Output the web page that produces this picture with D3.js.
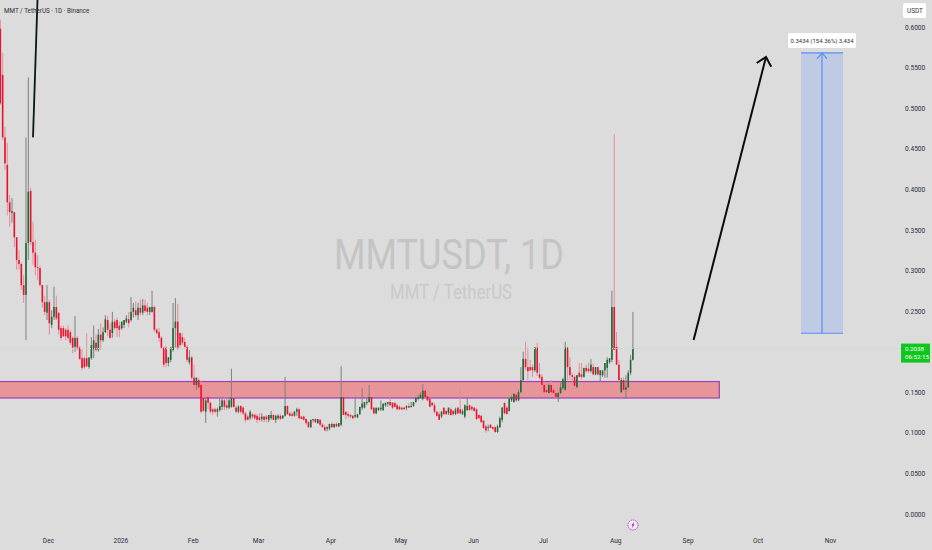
<!DOCTYPE html>
<html lang="en">
	<head>
		<meta charset="utf-8">
		<title>MMTUSDT 1D</title>
		<script type="text/javascript" src="https://cdn.jsdelivr.net/npm/d3@7"></script>
		<style type="text/css">
			html, body { margin: 0; padding: 0; background: #dcdcdc; }
			svg { display: block; font-family: "Roboto", "Liberation Sans", sans-serif; }
			.axis text { fill: #2a2e39; font-size: 6.6px; font-family: "Roboto", "Liberation Sans", sans-serif; }
			.axis path, .axis line { display: none; }
		</style>
	</head>

	<body>
		<script type="text/javascript">

			var w = 932;
			var h = 550;

			// daily candles, first one is 11 Nov 2025
			var firstDay = "2025-11-11";

			var opens = [
				.598,.541,.464,.430,.384,.371,.372,.341,.313,.308,
				.282,.270,.334,.398,.335,.322,.304,.303,.282,.261,
				.248,.261,.233,.243,.255,.248,.229,.229,.227,.227,
				.224,.217,.206,.217,.205,.192,.192,.192,.181,.192,
				.203,.211,.202,.221,.214,.224,.239,.227,.223,.237,
				.239,.232,.229,.233,.237,.240,.239,.249,.251,.245,
				.254,.248,.257,.254,.249,.249,.255,.227,.224,.217,
				.205,.205,.186,.190,.202,.229,.237,.223,.218,.212,
				.206,.187,.193,.168,.159,.165,.159,.143,.126,.144,
				.137,.129,.129,.126,.128,.132,.140,.134,.131,.132,
				.143,.131,.126,.133,.131,.124,.120,.118,.123,.122,
				.121,.119,.117,.120,.120,.116,.118,.122,.116,.118,
				.121,.118,.121,.133,.124,.123,.121,.126,.129,.120,
				.120,.117,.113,.107,.116,.117,.112,.116,.110,.107,
				.105,.105,.111,.107,.111,.108,.110,.144,.126,.123,
				.122,.121,.120,.119,.123,.131,.131,.137,.138,.144,
				.131,.124,.128,.129,.128,.134,.136,.138,.137,.137,
				.134,.132,.131,.131,.131,.133,.132,.133,.138,.142,
				.143,.142,.152,.145,.142,.137,.134,.126,.123,.120,
				.131,.127,.124,.129,.127,.123,.131,.129,.123,.120,
				.128,.134,.132,.131,.129,.122,.121,.115,.108,.106,
				.110,.107,.107,.101,.107,.116,.137,.131,.127,.140,
				.138,.147,.140,.150,.165,.191,.181,.181,.181,.177,
				.205,.172,.169,.159,.153,.149,.159,.153,.149,.144,
				.149,.155,.153,.205,.181,.171,.169,.156,.174,.172,
				.169,.180,.179,.176,.181,.172,.181,.171,.171,.177,
				.180,.187,.190,.255,.206,.184,.150,.165,.153,.156,.174,.190
			];
			var highs = [
				.609,.568,.477,.457,.393,.389,.372,.341,.325,.310,
				.294,.464,.538,.402,.360,.338,.319,.306,.282,.269,
				.282,.264,.251,.280,.269,.248,.232,.232,.229,.232,
				.227,.219,.244,.219,.207,.203,.194,.223,.192,.218,
				.232,.221,.228,.235,.230,.245,.244,.235,.249,.240,
				.242,.237,.237,.239,.245,.249,.267,.260,.262,.260,
				.264,.265,.264,.260,.255,.275,.257,.229,.229,.219,
				.205,.207,.193,.206,.260,.266,.259,.223,.223,.217,
				.208,.202,.195,.184,.168,.168,.164,.145,.143,.147,
				.139,.131,.131,.131,.142,.142,.143,.142,.143,.179,
				.144,.134,.134,.134,.133,.126,.122,.128,.124,.124,
				.123,.124,.124,.121,.122,.122,.127,.123,.122,.123,
				.123,.122,.169,.134,.126,.126,.127,.131,.131,.121,
				.121,.118,.115,.116,.117,.118,.117,.117,.112,.110,
				.108,.111,.113,.111,.113,.112,.182,.150,.126,.126,
				.123,.122,.144,.123,.132,.155,.138,.143,.159,.144,
				.132,.131,.131,.140,.136,.137,.138,.148,.138,.137,
				.136,.134,.132,.132,.134,.137,.138,.138,.144,.147,
				.150,.160,.153,.147,.143,.138,.137,.127,.126,.127,
				.131,.128,.131,.131,.128,.131,.132,.156,.129,.135,
				.144,.135,.134,.132,.131,.123,.122,.116,.110,.110,
				.111,.108,.108,.110,.120,.132,.137,.133,.143,.146,
				.149,.149,.153,.181,.200,.212,.205,.190,.184,.206,
				.211,.186,.172,.161,.161,.161,.165,.155,.150,.150,
				.163,.168,.212,.206,.193,.174,.171,.171,.186,.186,
				.180,.184,.186,.191,.185,.181,.181,.177,.177,.186,
				.193,.192,.275,.468,.224,.190,.168,.168,.171,.177,.196,.249
			];
			var lows = [
				.504,.461,.424,.368,.354,.359,.329,.301,.301,.276,
				.260,.214,.313,.331,.307,.294,.288,.280,.254,.245,
				.239,.221,.229,.239,.239,.221,.214,.218,.214,.214,
				.208,.198,.200,.202,.190,.177,.179,.181,.179,.190,
				.192,.200,.200,.202,.212,.223,.219,.216,.217,.227,
				.218,.218,.227,.229,.235,.230,.237,.242,.243,.239,
				.245,.245,.248,.245,.245,.248,.224,.221,.212,.203,
				.181,.181,.182,.187,.200,.205,.202,.205,.208,.205,
				.187,.184,.165,.150,.153,.150,.124,.126,.112,.129,
				.124,.122,.124,.120,.126,.128,.128,.128,.129,.131,
				.131,.124,.124,.124,.122,.113,.116,.116,.117,.116,
				.112,.114,.114,.113,.113,.113,.116,.116,.112,.116,
				.116,.117,.120,.122,.120,.120,.120,.121,.117,.117,
				.115,.110,.106,.106,.113,.112,.111,.108,.106,.102,
				.102,.103,.106,.106,.107,.107,.108,.122,.117,.118,
				.118,.117,.118,.118,.122,.128,.130,.134,.137,.128,
				.123,.123,.127,.127,.127,.132,.132,.133,.129,.131,
				.128,.128,.128,.129,.128,.131,.131,.132,.137,.140,
				.142,.140,.142,.139,.132,.133,.124,.120,.116,.118,
				.122,.122,.122,.121,.121,.122,.123,.123,.122,.118,
				.127,.127,.127,.126,.116,.117,.113,.105,.100,.102,
				.106,.103,.100,.100,.106,.113,.123,.123,.126,.138,
				.137,.138,.139,.149,.164,.177,.165,.176,.169,.175,
				.170,.166,.153,.149,.149,.149,.149,.144,.142,.138,
				.148,.153,.152,.165,.165,.163,.156,.156,.168,.166,
				.168,.174,.174,.174,.171,.171,.171,.163,.169,.168,
				.168,.185,.187,.202,.184,.163,.149,.150,.142,.155,.171,.189
			];
			var closes = [
				.506,.464,.432,.384,.372,.373,.341,.313,.308,.282,
				.270,.334,.397,.335,.322,.304,.303,.282,.261,.249,
				.261,.235,.243,.255,.241,.227,.217,.219,.219,.217,
				.211,.205,.217,.205,.191,.180,.181,.182,.193,.208,
				.214,.202,.221,.214,.224,.240,.227,.217,.237,.229,
				.229,.227,.237,.239,.241,.235,.249,.254,.245,.254,
				.248,.257,.250,.249,.255,.255,.227,.223,.217,.205,
				.184,.186,.193,.205,.229,.237,.205,.208,.211,.206,
				.190,.193,.168,.159,.168,.156,.126,.127,.140,.137,
				.126,.126,.126,.129,.133,.140,.132,.131,.140,.143,
				.132,.126,.132,.126,.124,.116,.116,.126,.120,.118,
				.116,.116,.120,.116,.117,.122,.122,.116,.121,.121,
				.117,.121,.133,.123,.121,.121,.126,.129,.118,.117,
				.116,.112,.107,.116,.117,.113,.117,.110,.107,.103,
				.107,.111,.107,.111,.108,.112,.144,.122,.122,.121,
				.120,.118,.122,.123,.132,.136,.138,.138,.144,.129,
				.124,.131,.131,.131,.136,.137,.138,.134,.131,.132,
				.129,.129,.129,.129,.133,.131,.133,.138,.143,.144,
				.147,.152,.144,.140,.132,.134,.126,.121,.116,.126,
				.123,.123,.131,.122,.123,.129,.124,.124,.127,.134,
				.133,.128,.129,.127,.117,.118,.113,.106,.103,.107,
				.106,.105,.101,.108,.118,.131,.124,.123,.142,.144,
				.148,.140,.150,.165,.191,.181,.176,.177,.177,.205,
				.174,.168,.159,.150,.150,.159,.150,.149,.144,.149,
				.156,.166,.205,.181,.171,.169,.158,.171,.169,.169,
				.180,.176,.176,.184,.172,.181,.172,.177,.177,.186,
				.190,.192,.255,.202,.184,.165,.165,.153,.156,.174,.190,.2038
			];

			var lastPrice = 0.2038;
			var lastLabel = ["0.2038", "06:52:15"];

			// 0.2000 sits behind the last price tag in the original so it is left out
			var priceTicks = [0, .05, .1, .15, .25, .3, .35, .4, .45, .5, .55, .6];
			var timeTicks = ["2025-12-01", "2026-01-01", "2026-02-01", "2026-03-01", "2026-04-01", "2026-05-01",
				"2026-06-01", "2026-07-01", "2026-08-01", "2026-09-01", "2026-10-01", "2026-11-01"];
			var timeLabels = ["Dec", "2026", "Feb", "Mar", "Apr", "May", "Jun", "Jul", "Aug", "Sep", "Oct", "Nov"];

			// drawings on the chart: zone, measured range, two trend lines
			var zonePrices = [.1632, .1429];
			var zoneEnd = "2026-09-15";
			var rangePrices = [.2227, .5680];
			var rangeDays = ["2026-10-20", "2026-11-07"];
			var rangeLabel = "0.3434 (154.36%) 3,434";
			var bigArrowDays = ["2026-09-04", "2026-10-05"];
			var bigArrowPrices = [.2144, .5630];
			var topLineDays = ["2025-11-25", "2025-11-27"];
			var topLinePrices = [.4640, .6400];

			var parseDay = d3.utcParse("%Y-%m-%d");

			var xScale = d3.scaleUtc()
				.domain([parseDay("2025-12-01"), parseDay("2026-11-01")])
				.range([47, 829]);

			var yScale = d3.scaleLinear()
				.domain([0, .6])
				.range([514, 27]);

			var svg = d3.select("body")
				.append("svg")
				.attr("width", w)
				.attr("height", h);

			svg.append("rect")
				.attr("width", w)
				.attr("height", h)
				.attr("fill", "#dcdcdc");

			// clip so nothing runs under the price scale
			svg.append("clipPath")
				.attr("id", "pane")
				.append("rect")
				.attr("width", 900)
				.attr("height", 530);

			var pane = svg.append("g").attr("clip-path", "url(#pane)");

			// watermark
			pane.append("text")
				.attr("x", 449)
				.attr("y", 269)
				.attr("text-anchor", "middle")
				.attr("font-size", 43)
				.attr("textLength", 230)
				.attr("lengthAdjust", "spacingAndGlyphs")
				.attr("fill", "#c4c4c4")
				.text("MMTUSDT, 1D");

			pane.append("text")
				.attr("x", 451)
				.attr("y", 299)
				.attr("text-anchor", "middle")
				.attr("font-size", 21)
				.attr("textLength", 122)
				.attr("lengthAdjust", "spacingAndGlyphs")
				.attr("fill", "#c9c9c9")
				.text("MMT / TetherUS");

			// last price line
			svg.append("line")
				.attr("x1", 0)
				.attr("x2", 901)
				.attr("y1", yScale(lastPrice))
				.attr("y2", yScale(lastPrice))
				.attr("stroke", "#bcdcbc")
				.attr("stroke-dasharray", "1,1");

			// zone
			pane.append("rect")
				.attr("x", -2)
				.attr("y", yScale(zonePrices[0]))
				.attr("width", xScale(parseDay(zoneEnd)) + 2)
				.attr("height", yScale(zonePrices[1]) - yScale(zonePrices[0]))
				.attr("fill", "#e89599")
				.attr("stroke", "#9d3fb4")
				.attr("stroke-width", 1.2);

			// candles
			var first = parseDay(firstDay);
			var candles = closes.map(function(c, i) {
				return {
					day: d3.utcDay.offset(first, i),
					open: opens[i],
					high: highs[i],
					low: lows[i],
					close: c
				};
			});

			var candle = pane.selectAll("g.candle")
				.data(candles)
				.enter()
				.append("g")
				.attr("class", "candle");

			candle.append("line")
				.attr("x1", function(d) { return xScale(d.day); })
				.attr("x2", function(d) { return xScale(d.day); })
				.attr("y1", function(d) { return yScale(d.high); })
				.attr("y2", function(d) { return yScale(d.low); })
				.attr("stroke", function(d) { return d.close >= d.open ? "#7f7f7f" : "#e88a98"; })
				.attr("stroke-width", 1);

			candle.append("rect")
				.attr("x", function(d) { return xScale(d.day) - 0.8; })
				.attr("width", 1.6)
				.attr("y", function(d) { return yScale(Math.max(d.open, d.close)); })
				.attr("height", function(d) { return Math.max(1, Math.abs(yScale(d.open) - yScale(d.close))); })
				.attr("fill", function(d) { return d.close >= d.open ? "#1f6a35" : "#ea1230"; });

			// measured range
			var rx0 = xScale(parseDay(rangeDays[0]));
			var rx1 = xScale(parseDay(rangeDays[1]));
			var rxm = (rx0 + rx1) / 2;
			var ry0 = yScale(rangePrices[0]);
			var ry1 = yScale(rangePrices[1]);

			pane.append("rect")
				.attr("x", rx0)
				.attr("y", ry1)
				.attr("width", rx1 - rx0)
				.attr("height", ry0 - ry1)
				.attr("fill", "#bfcbe4");

			[ry0, ry1].forEach(function(y) {
				pane.append("line")
					.attr("x1", rx0).attr("x2", rx1)
					.attr("y1", y).attr("y2", y)
					.attr("stroke", "#5a8cf0")
					.attr("stroke-width", 1.2);
			});

			pane.append("line")
				.attr("x1", rxm).attr("x2", rxm)
				.attr("y1", ry0).attr("y2", ry1)
				.attr("stroke", "#5a8cf0")
				.attr("stroke-width", 1.2);

			pane.append("path")
				.attr("d", "M" + (rxm - 5) + "," + (ry1 + 6) + "L" + rxm + "," + ry1 + "L" + (rxm + 5) + "," + (ry1 + 6))
				.attr("fill", "none")
				.attr("stroke", "#5a8cf0")
				.attr("stroke-width", 1.2);

			pane.append("rect")
				.attr("x", rxm - 34)
				.attr("y", ry1 - 20)
				.attr("width", 68)
				.attr("height", 15)
				.attr("rx", 1.5)
				.attr("fill", "#ffffff");

			pane.append("text")
				.attr("x", rxm)
				.attr("y", ry1 - 10)
				.attr("text-anchor", "middle")
				.attr("font-size", 6)
				.attr("fill", "#333")
				.text(rangeLabel);

			// black trend lines
			var ax0 = xScale(parseDay(bigArrowDays[0])), ax1 = xScale(parseDay(bigArrowDays[1]));
			var ay0 = yScale(bigArrowPrices[0]), ay1 = yScale(bigArrowPrices[1]);
			var ang = Math.atan2(ay1 - ay0, ax1 - ax0);

			pane.append("line")
				.attr("x1", ax0).attr("y1", ay0)
				.attr("x2", ax1).attr("y2", ay1)
				.attr("stroke", "#0b0b0b")
				.attr("stroke-width", 2);

			pane.append("path")
				.attr("d", "M" + (ax1 - 11 * Math.cos(ang - .75)) + "," + (ay1 - 11 * Math.sin(ang - .75)) +
					"L" + ax1 + "," + ay1 +
					"L" + (ax1 - 11 * Math.cos(ang + .75)) + "," + (ay1 - 11 * Math.sin(ang + .75)))
				.attr("fill", "none")
				.attr("stroke", "#0b0b0b")
				.attr("stroke-width", 2);

			pane.append("line")
				.attr("x1", xScale(parseDay(topLineDays[0])))
				.attr("y1", yScale(topLinePrices[0]))
				.attr("x2", xScale(parseDay(topLineDays[1])))
				.attr("y2", yScale(topLinePrices[1]))
				.attr("stroke", "#0b1a10")
				.attr("stroke-width", 1.8);

			// title
			svg.append("text")
				.attr("x", 4)
				.attr("y", 12.5)
				.attr("font-size", 6.3)
				.attr("fill", "#2a2e39")
				.text("MMT / TetherUS · 1D · Binance");

			// price scale
			var yAxis = d3.axisRight(yScale)
				.tickValues(priceTicks)
				.tickSize(0)
				.tickPadding(0)
				.tickFormat(d3.format(".4f"));

			svg.append("g")
				.attr("class", "axis")
				.attr("transform", "translate(905,0)")
				.call(yAxis);

			svg.append("rect")
				.attr("x", 903)
				.attr("y", 3)
				.attr("width", 23)
				.attr("height", 15)
				.attr("rx", 2)
				.attr("fill", "#ffffff");

			svg.append("text")
				.attr("x", 907)
				.attr("y", 13)
				.attr("font-size", 6.4)
				.attr("fill", "#333")
				.text("USDT");

			// time scale
			var xAxis = d3.axisBottom(xScale)
				.tickValues(timeTicks.map(parseDay))
				.tickSize(0)
				.tickPadding(0)
				.tickFormat(function(d, i) { return timeLabels[i]; });

			svg.append("g")
				.attr("class", "axis")
				.attr("transform", "translate(1,538.5)")
				.call(xAxis);

			// last price tag
			svg.append("rect")
				.attr("x", 901)
				.attr("y", yScale(lastPrice) - 5)
				.attr("width", 29)
				.attr("height", 19)
				.attr("fill", "#0fc71c");

			svg.selectAll("text.tag")
				.data(lastLabel)
				.enter()
				.append("text")
				.attr("class", "tag")
				.attr("x", 905)
				.attr("y", function(d, i) { return yScale(lastPrice) + 2 + i * 8; })
				.attr("font-size", 6.2)
				.attr("fill", "#ffffff")
				.text(function(d) { return d; });

			// lightning marker
			var marker = svg.append("g").attr("transform", "translate(633,525)");

			marker.append("circle")
				.attr("r", 5)
				.attr("fill", "#f1eef3")
				.attr("stroke", "#b03fc0")
				.attr("stroke-dasharray", "1.5,0.8");

			marker.append("path")
				.attr("d", "M1,-3.2L-1.6,0.6L-0.2,0.6L-1,3.2L1.6,-0.6L0.2,-0.6Z")
				.attr("fill", "#9c27b0");

		</script>
	</body>
</html>
